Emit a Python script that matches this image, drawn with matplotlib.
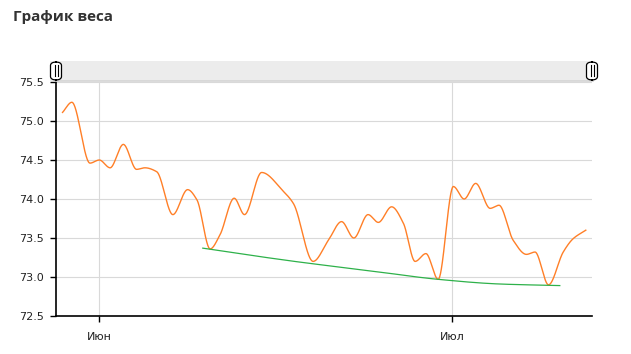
import numpy as np
import pandas as pd
import matplotlib
matplotlib.use("Agg")
import matplotlib.pyplot as plt
import matplotlib.dates as mdates
from matplotlib.patches import Rectangle, FancyBboxPatch
from matplotlib.lines import Line2D

# weight measurements
weight_times = [
    "2023-05-28 21:00", "2023-05-29 16:00", "2023-05-31 05:00", "2023-06-01 00:00",
    "2023-06-01 22:00", "2023-06-03 01:00", "2023-06-04 04:00", "2023-06-04 21:00",
    "2023-06-05 21:00", "2023-06-07 06:00", "2023-06-08 12:00", "2023-06-09 07:00",
    "2023-06-10 10:00", "2023-06-11 06:00", "2023-06-12 11:00", "2023-06-13 08:00",
    "2023-06-14 19:00", "2023-06-16 15:00", "2023-06-17 12:00", "2023-06-19 04:00",
    "2023-06-20 11:00", "2023-06-21 14:00", "2023-06-22 15:00", "2023-06-23 20:00",
    "2023-06-24 17:00", "2023-06-25 20:00", "2023-06-26 20:00", "2023-06-27 20:00",
    "2023-06-28 18:00", "2023-06-29 19:00", "2023-07-01 02:00", "2023-07-02 00:00",
    "2023-07-02 23:30", "2023-07-04 05:00", "2023-07-04 23:00", "2023-07-06 04:00",
    "2023-07-07 07:00", "2023-07-08 00:30", "2023-07-09 04:00", "2023-07-10 10:00",
    "2023-07-11 06:00", "2023-07-12 08:00",
]
weight_values = [
    75.11, 75.24, 74.46, 74.50, 74.40, 74.70, 74.38, 74.40,
    74.35, 73.80, 74.12, 73.99, 73.36, 73.54, 74.01, 73.80,
    74.34, 74.10, 73.94, 73.20, 73.47, 73.71, 73.50, 73.80,
    73.70, 73.90, 73.69, 73.20, 73.30, 72.97, 74.16, 74.00,
    74.20, 73.88, 73.92, 73.47, 73.29, 73.32, 72.90, 73.32,
    73.49, 73.60,
]

# trend line
trend_times = [
    "2023-06-09 19:00", "2023-06-13 19:00", "2023-06-18 02:00", "2023-06-24 00:00",
    "2023-06-29 19:00", "2023-07-05 01:00", "2023-07-10 03:00",
]
trend_values = [73.37, 73.28, 73.19, 73.08, 72.97, 72.91, 72.89]

month_names = {6: "Июн", 7: "Июл"}


def monotone_curve(x, y, n=2000):
    # Fritsch-Carlson monotone cubic
    x = np.asarray(x, float)
    y = np.asarray(y, float)
    h = np.diff(x)
    d = np.diff(y) / h
    m = np.zeros_like(y)
    m[0], m[-1] = d[0], d[-1]
    for i in range(1, len(y) - 1):
        if d[i - 1] * d[i] <= 0:
            m[i] = 0
        else:
            w1 = 2 * h[i] + h[i - 1]
            w2 = h[i] + 2 * h[i - 1]
            m[i] = (w1 + w2) / (w1 / d[i - 1] + w2 / d[i])
    xs = np.linspace(x[0], x[-1], n)
    idx = np.clip(np.searchsorted(x, xs) - 1, 0, len(h) - 1)
    t = (xs - x[idx]) / h[idx]
    h00 = 2 * t**3 - 3 * t**2 + 1
    h10 = t**3 - 2 * t**2 + t
    h01 = -2 * t**3 + 3 * t**2
    h11 = t**3 - t**2
    ys = h00 * y[idx] + h10 * h[idx] * m[idx] + h01 * y[idx + 1] + h11 * h[idx] * m[idx + 1]
    return xs, ys


W, H = 631, 354
fig = plt.figure(figsize=(W / 100, H / 100), dpi=100)
ax = fig.add_axes([56 / W, 38 / H, (592 - 56) / W, (316 - 82) / H])

wx = mdates.date2num(pd.to_datetime(weight_times))
tx = mdates.date2num(pd.to_datetime(trend_times))

xs, ys = monotone_curve(wx, weight_values)
ax.plot(xs, ys, color="#ff7f27", lw=1.0, zorder=3)
xs, ys = monotone_curve(tx, trend_values)
ax.plot(xs, ys, color="#2eb14a", lw=0.9, zorder=3)

ax.set_xlim(mdates.date2num(pd.Timestamp("2023-05-28 07:40")),
            mdates.date2num(pd.Timestamp("2023-07-12 20:40")))
ax.set_ylim(72.5, 75.5)
ax.set_yticks(np.arange(72.5, 75.51, 0.5))
ax.yaxis.set_major_formatter(plt.FuncFormatter(lambda v, p: f"{v:.1f}"))

ax.xaxis.set_major_locator(mdates.MonthLocator())
ax.xaxis.set_major_formatter(plt.FuncFormatter(
    lambda v, p: month_names.get(mdates.num2date(v).month, "")))

ax.grid(True, color="#d9d9d9", lw=0.8)
ax.set_axisbelow(True)
for s in ["top", "right"]:
    ax.spines[s].set_visible(False)
for s in ["left", "bottom"]:
    ax.spines[s].set_color("black")
    ax.spines[s].set_linewidth(1.2)
ax.tick_params(axis="y", length=4, width=1, pad=5, labelsize=8, labelcolor="#222222")
ax.tick_params(axis="x", length=4.5, width=1, pad=7, labelsize=8, labelcolor="#222222")

# scrollbar on top
def px(x, y):
    return x / W, 1 - y / H

bx, by = px(50, 81)
fig.patches.append(Rectangle((bx, by), (593 - 50) / W, 20 / H, transform=fig.transFigure,
                             facecolor="#ececec", edgecolor="none", zorder=1))
fig.lines.append(Line2D([56 / W, 593 / W], [1 - 81 / H] * 2, transform=fig.transFigure,
                        color="#d4d4d4", lw=1.2))
for cx in (56, 592):
    hx, hy = px(cx - 5.5, 80)
    fig.patches.append(FancyBboxPatch((hx, hy), 11 / W, 18 / H,
                                      boxstyle="round,pad=0,rounding_size=0.01",
                                      transform=fig.transFigure, facecolor="white",
                                      edgecolor="black", lw=0.9, zorder=2))
    for dx in (-1.5, 1.5):
        fig.lines.append(Line2D([(cx + dx) / W] * 2, [1 - 76 / H, 1 - 65 / H],
                                transform=fig.transFigure, color="black", lw=0.8, zorder=3))

fig.text(13 / W, 1 - 17 / H, "График веса", fontsize=11, fontweight="bold",
         family=["Open Sans", "DejaVu Sans"], color="#333333", va="center", ha="left")

fig.savefig("out.png", dpi=100)
